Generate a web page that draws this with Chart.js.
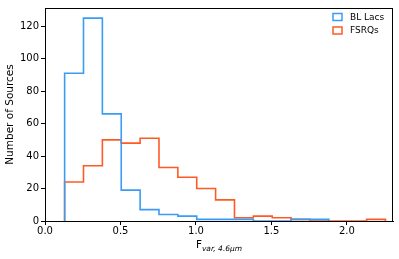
<!DOCTYPE html>
<html>
<head>
<meta charset="utf-8">
<script src="https://cdn.jsdelivr.net/npm/chart.js@4"></script>
<style>
  html, body { margin: 0; padding: 0; background: #fff; }
  #wrap { width: 399px; height: 259px; }
</style>
</head>
<body>
<div id="wrap"><canvas id="histChart" width="399" height="259"></canvas></div>
<script>
// bin edges of the histogram (width 0.125)
const binStart = 0.13;
const binWidth = 0.125;
const blLacs = [91, 125, 66, 19, 7, 4, 3, 1, 1, 1, 0, 0, 1, 1];
const fsrqs = [24, 34, 50, 48, 51, 33, 27, 20, 13, 2, 3, 2, 1, 0, 0, 0, 1];
const xTicks = [0, 0.5, 1.0, 1.5, 2.0];
const yTicks = [0, 20, 40, 60, 80, 100, 120];

const font = "'DejaVu Sans', sans-serif";

function stepPoints(counts) {
  const pts = [{ x: binStart, y: 0 }];
  counts.forEach((c, i) => pts.push({ x: binStart + i * binWidth, y: c }));
  pts.push({ x: binStart + counts.length * binWidth, y: 0 });
  return pts;
}

const framePlugin = {
  id: 'frame',
  afterDraw(chart) {
    const ctx = chart.ctx;
    const a = chart.chartArea;
    ctx.save();
    ctx.strokeStyle = '#000';
    ctx.lineWidth = 1;
    ctx.strokeRect(a.left + 0.5, a.top + 0.5, a.right - a.left - 1, a.bottom - a.top);

    // x axis title with subscript
    ctx.fillStyle = '#000';
    ctx.textBaseline = 'alphabetic';
    ctx.font = '10.5px ' + font;
    const main = 'F';
    const sub = 'var, 4.6\u03bcm';
    const w1 = ctx.measureText(main).width;
    ctx.font = 'italic 7.5px ' + font;
    const w2 = ctx.measureText(sub).width;
    const cx = (a.left + a.right) / 2;
    const x0 = cx - (w1 + w2) / 2;
    ctx.font = '10.5px ' + font;
    ctx.fillText(main, x0, 248);
    ctx.font = 'italic 7.5px ' + font;
    ctx.fillText(sub, x0 + w1, 251);

    // legend in the upper right corner
    const items = chart.data.datasets;
    ctx.font = '9px ' + font;
    ctx.textBaseline = 'middle';
    items.forEach((ds, i) => {
      const y = 17 + i * 13.5;
      ctx.strokeStyle = ds.borderColor;
      ctx.lineWidth = 1.5;
      ctx.strokeRect(333, y - 3.5, 9, 7);
      ctx.fillStyle = '#000';
      ctx.fillText(ds.label, 350, y + 0.5);
    });
    ctx.restore();
  }
};

const ctx = document.getElementById('histChart').getContext('2d');
const chart = new Chart(ctx, {
  type: 'line',
  data: {
    datasets: [
      {
        label: 'BL Lacs',
        data: stepPoints(blLacs),
        borderColor: '#3a9cf5',
        borderWidth: 1.6,
        stepped: true,
        pointRadius: 0,
        fill: false
      },
      {
        label: 'FSRQs',
        data: stepPoints(fsrqs),
        borderColor: '#ff5a26',
        borderWidth: 1.6,
        stepped: true,
        pointRadius: 0,
        fill: false
      }
    ]
  },
  options: {
    responsive: false,
    animation: false,
    layout: { padding: { left: 0, top: 5, right: 6, bottom: 0 } },
    plugins: {
      legend: { display: false },
      tooltip: { enabled: false }
    },
    scales: {
      x: {
        type: 'linear',
        min: 0,
        max: 2.305,
        afterBuildTicks: s => { s.ticks = xTicks.map(v => ({ value: v })); },
        afterFit: s => { s.height = 38; },
        ticks: {
          color: '#000',
          font: { family: font, size: 10 },
          padding: 0,
          maxRotation: 0,
          callback: v => v.toFixed(1)
        },
        grid: { display: true, drawOnChartArea: false, drawTicks: true, tickLength: 4, color: '#000' },
        border: { display: true, color: '#000' }
      },
      y: {
        min: 0,
        max: 131.25,
        afterBuildTicks: s => { s.ticks = yTicks.map(v => ({ value: v })); },
        afterFit: s => { s.width = 45; },
        ticks: {
          color: '#000',
          font: { family: font, size: 10 },
          padding: 2
        },
        title: {
          display: true,
          text: 'Number of Sources',
          color: '#000',
          font: { family: font, size: 10.5 },
          padding: { top: 4, bottom: 0 }
        },
        grid: { display: true, drawOnChartArea: false, drawTicks: true, tickLength: 4, color: '#000' },
        border: { display: true, color: '#000' }
      }
    }
  },
  plugins: [framePlugin]
});
</script>
</body>
</html>
